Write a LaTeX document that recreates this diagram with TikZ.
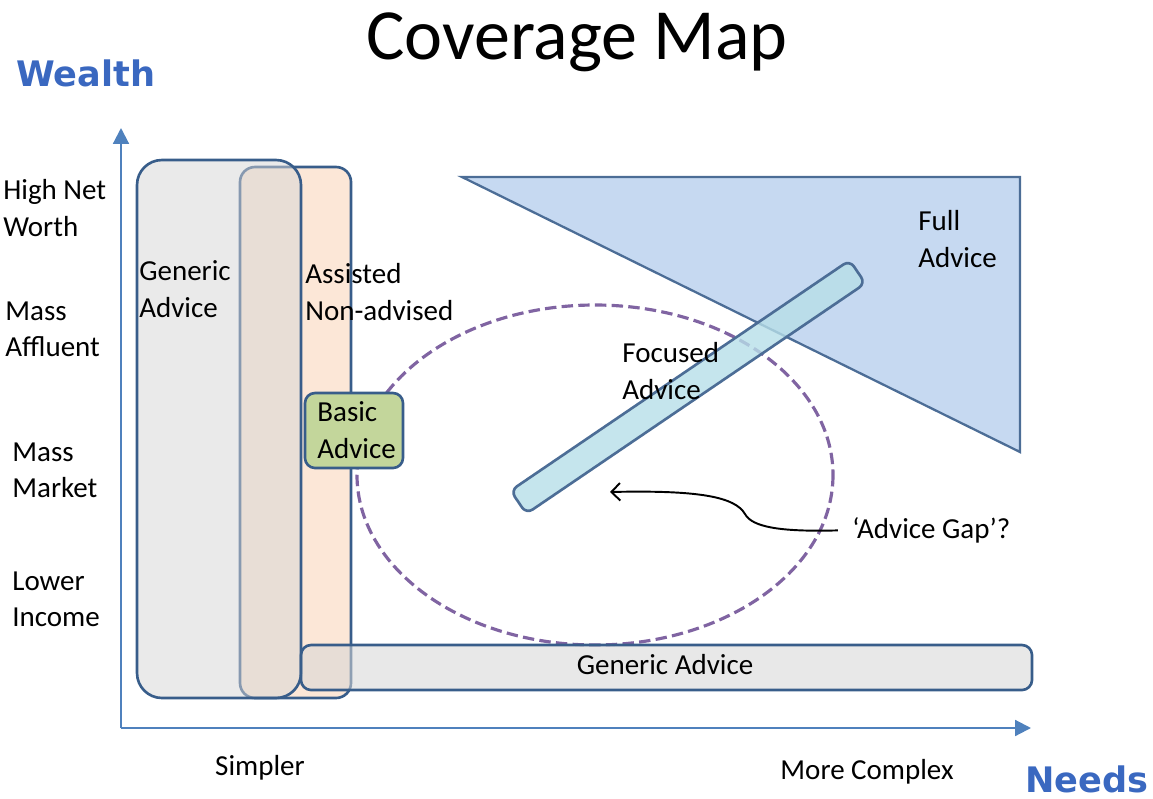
\documentclass[tikz,border=0pt]{standalone}
\usepackage{fontspec}
\setmainfont{Carlito}
\newfontfamily\axisfont{DejaVu Sans}
\usetikzlibrary{arrows.meta,positioning}
\definecolor{axisblue}{HTML}{4F81BD}
\definecolor{edgeblue}{HTML}{385D8A}
\definecolor{peach}{HTML}{FCE7D7}
\definecolor{shade}{HTML}{D6D6D6}
\definecolor{fullblue}{HTML}{C6D9F1}
\definecolor{focusblue}{HTML}{B7DEE8}
\definecolor{basicgreen}{HTML}{C3D69B}
\definecolor{gappurple}{HTML}{8064A2}
\definecolor{headblue}{HTML}{3A68C0}

\begin{document}
\begin{tikzpicture}[x=0.02cm,y=-0.02cm,
  lbl/.style={align=left,anchor=west,inner sep=0pt,font=\fontsize{16.5}{20.7}\selectfont},
  box/.style={draw=edgeblue,line width=1.5pt},
  axis/.style={axisblue,line width=1.2pt,-{Triangle[length=9pt,width=9pt]}},
  head/.style={inner sep=0pt,anchor=west,text=headblue,font=\axisfont\bfseries\fontsize{20}{22}\selectfont}]
\useasboundingbox (0,0) rectangle (1153,798);

\node (title) at (577,42) {\fontsize{41}{48}\selectfont Coverage Map};
\node [head] (wealth) at (16,73) {Wealth};
\node [head] (needs) at (1025,779) {Needs};

% client segments
\draw [box,fill=peach,rounded corners=0.3cm] (240,167) rectangle (351,698);
\draw [box,fill=shade,fill opacity=0.5,rounded corners=0.5cm] (137,160) rectangle (301,698);
\draw [draw=edgeblue!90,line width=1.3pt,fill=fullblue] (462,177) -- (1020,177) -- (1020,452) -- cycle;
\draw [gappurple,line width=1.8pt,dash pattern=on 6.5pt off 3pt] (595,475) ellipse [x radius=238, y radius=170];
\node [box,draw=edgeblue!90,fill=focusblue,fill opacity=0.8,rounded corners=0.15cm,rotate=34.2,
  minimum width=8.2cm,minimum height=0.56cm] (focused) at (688,387) {};
\draw [box,fill=shade,fill opacity=0.55,rounded corners=0.2cm] (301,645) rectangle (1032,690);
\draw [box,fill=basicgreen,rounded corners=0.2cm] (305,393) rectangle (403,468);

% axes
\coordinate (origin) at (121,728);
\coordinate (ytip) at (121,128);
\coordinate (xtip) at (1031,728);
\draw [axis] (origin) -- (ytip);
\draw [axis] (origin) -- (xtip);

\node [lbl] (hnw) at (3,208) {High Net\\Worth};
\node [lbl] (affluent) at (5,329) {Mass\\Affluent};
\node [lbl] (market) at (12,470) {Mass\\Market};
\node [lbl] (lower) at (12,599) {Lower\\Income};
\node [lbl,anchor=center] (simpler) at (260,768) {Simpler};
\node [lbl,anchor=center] (complex) at (867,772) {More Complex};

\node [lbl] (generic) at (139,289) {Generic\\Advice};
\node [lbl] (assisted) at (305,292) {Assisted\\Non-advised};
\node [lbl] (basic) at (317,430) {Basic\\Advice};
\node [lbl] (full) at (918,239) {Full\\Advice};
\node [lbl] (focustext) at (622,371) {Focused\\Advice};
\node [lbl,anchor=center] (genericbar) at (665,665) {Generic Advice};

\node [lbl] (gap) at (852,530) {‘Advice Gap’?};
\coordinate (gapend) at (610,492);
\draw [line width=1.1pt,shorten <=8pt,-{Straight Barb[length=5pt,width=10pt]}] (gap.west)
  .. controls (780,532) and (752,527) .. (745,514) .. controls (735,497) and (700,490) .. (gapend);
\end{tikzpicture}
\end{document}
